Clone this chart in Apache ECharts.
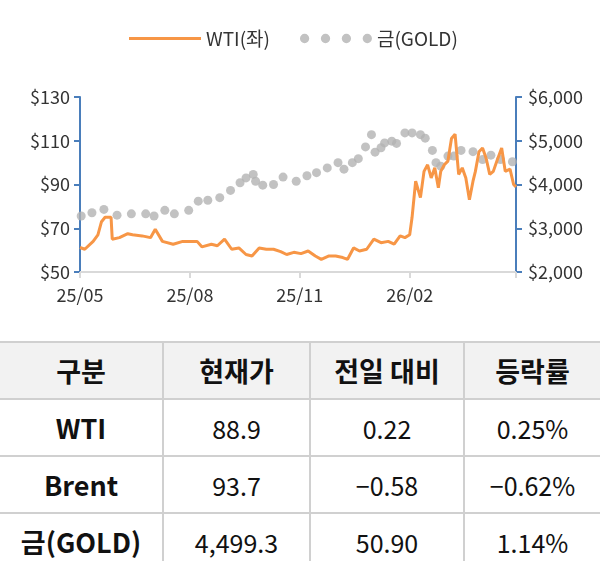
<!DOCTYPE html>
<html><head><meta charset="utf-8">
<script src="https://cdn.jsdelivr.net/npm/echarts@6/dist/echarts.min.js"></script>
<style>
body{margin:0;background:#fff;font-family:"Noto Sans CJK KR","Noto Sans",sans-serif;}
#chart{width:600px;height:335px;}
table{position:absolute;top:341px;left:0;width:600px;border-collapse:collapse;color:#111;table-layout:fixed;}
td,th{height:55px;border:2px solid #d0d0d0;text-align:center;font-size:25px;padding:0;font-weight:400;}
tr td:first-child,tr th:first-child{border-left:none;font-weight:600;font-size:27px;}
tr td:last-child,tr th:last-child{border-right:none;}
th{background:#f2f2f2;font-weight:600;font-size:27px;}
tr:last-child td{border-bottom:none;}
</style></head>
<body>
<div id="chart"></div>
<table id="tbl"><colgroup><col style="width:163px"><col style="width:147px"><col style="width:154px"><col style="width:136px"></colgroup></table>
<script>
// 일수: 2025-05-01 기준
var monthLabels = {0:'25/05', 92:'25/08', 184:'25/11', 276:'26/02'};
var wtiDays = [0,4,11,15,18,21,26,27,33,40,44,52,59,63,69,78,86,98,102,110,115,121,127,133,139,144,150,156,162,168,173,179,185,191,197,202,208,214,220,224,229,234,240,246,252,258,263,268,272,276,278,281,285,288,291,294,297,300,302,305,308,311,314,317,320,323,326,329,331,334,337,340,343,346,349,353,356,360,363,365];
var wtiPrice = [61.2,60.4,64,67,73,75,75,65,65.7,67.5,67,66.5,65.7,69.5,64,62.7,64,64,61.5,62.7,62,65,60.4,61,58,57.3,61,60.4,60.4,59.3,58,59,58.4,59.6,57.3,55.8,57.3,57.3,56.6,55.8,61,59.6,60.4,65,63.4,64,62.7,66.5,65.7,67,75,91.5,84,96,99,93,97.6,88.5,96,99,100.7,111,113,94.6,97.6,93,83,91.5,96,105,106.7,102,94.6,96,100.7,106.7,96,97,90,88.9];
var goldDays = [1,10,20,31,43,55,62,71,79,91,99,107,117,126,134,139,145,147,153,162,170,181,190,198,207,216,221,228,233,239,244,247,252,255,261,265,272,278,285,289,295,298,302,308,313,319,329,337,344,352,362];
var goldPrice = [3280,3355,3430,3300,3330,3330,3280,3410,3330,3410,3620,3640,3700,3865,4040,4150,4230,4075,3985,4000,4170,4075,4200,4270,4380,4500,4350,4500,4590,4860,5140,4740,4840,4950,4990,4940,5180,5180,5140,5060,4780,4500,4420,4650,4650,4780,4750,4570,4670,4570,4520];
var tableHead = ['구분','현재가','전일 대비','등락률'];
var tableRows = [
    ['WTI','88.9','0.22','0.25%'],
    ['Brent','93.7','\u22120.58','\u22120.62%'],
    ['금(GOLD)','4,499.3','50.90','1.14%']
];

var html = '<tr>' + tableHead.map(function(h){return '<th>'+h+'</th>';}).join('') + '</tr>';
tableRows.forEach(function(r){
    html += '<tr>' + r.map(function(c){return '<td>'+c+'</td>';}).join('') + '</tr>';
});
document.getElementById('tbl').insertAdjacentHTML('beforeend', html);

var font = '"Noto Sans CJK KR","Noto Sans",sans-serif';
var chart = echarts.init(document.getElementById('chart'));
var blueAxis = {show:true, lineStyle:{color:'#4a7ebb', width:2}};
chart.setOption({
    animation: false,
    textStyle: {fontFamily: font},
    legend: {
        top: 24, left: 124, itemGap: 30, itemWidth: 72, itemHeight: 10,
        textStyle: {fontSize: 19, color: '#333'},
        data: [
            {name:'WTI(좌)', icon:'path://M0,3.5H72V6.5H0Z'},
            {name:'금(GOLD)', icon:'path://M4,1a4,4 0 1,0 0.01,0ZM22,1a4,4 0 1,0 0.01,0ZM40,1a4,4 0 1,0 0.01,0ZM58,1a4,4 0 1,0 0.01,0Z'}
        ]
    },
    grid: {left: 80, right: 84, top: 97, bottom: 63},
    xAxis: {
        type: 'value', min: 0, max: 365, interval: 92,
        axisLine: {lineStyle:{color:'#d9d9d9', width:2}},
        axisTick: {show:true, length:6, lineStyle:{color:'#d9d9d9', width:2}},
        splitLine: {show:false},
        axisLabel: {fontSize:18, color:'#333', margin:14, formatter:function(v){return monthLabels[v] || '';}}
    },
    yAxis: [{
        type:'value', min:50, max:130, interval:20, position:'left',
        axisLine: blueAxis,
        axisTick: {show:true, length:6, lineStyle:{color:'#4a7ebb', width:2}},
        splitLine: {show:false},
        axisLabel: {fontSize:18, color:'#333', margin:10, formatter:'${value}'}
    },{
        type:'value', min:2000, max:6000, interval:1000, position:'right',
        axisLine: blueAxis,
        axisTick: {show:true, length:6, lineStyle:{color:'#4a7ebb', width:2}},
        splitLine: {show:false},
        axisLabel: {fontSize:18, color:'#333', margin:12, formatter:function(v){return '$'+v.toLocaleString('en-US');}}
    }],
    series: [{
        name:'WTI(좌)', type:'line', yAxisIndex:0, symbol:'none',
        lineStyle:{color:'#f79646', width:3}, itemStyle:{color:'#f79646'},
        data: wtiDays.map(function(d,i){return [d, wtiPrice[i]];})
    },{
        name:'금(GOLD)', type:'scatter', yAxisIndex:1, symbolSize:9,
        itemStyle:{color:'#b3b3b3'},
        data: goldDays.map(function(d,i){return [d, goldPrice[i]];})
    }]
});
</script>
</body></html>
